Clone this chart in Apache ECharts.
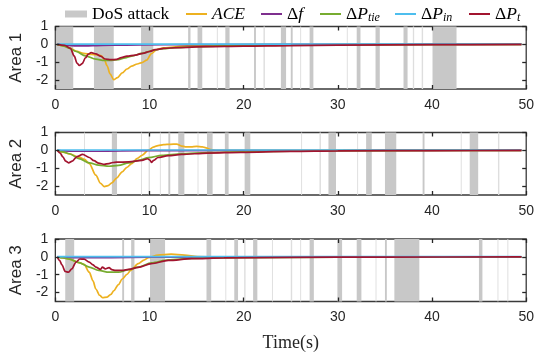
<!DOCTYPE html>
<html>
<head>
<meta charset="utf-8">
<script src="https://cdn.jsdelivr.net/npm/echarts@6/dist/echarts.min.js"></script>
<style>html,body{margin:0;padding:0;background:#fff;}#c{width:537px;height:358px;}</style>
</head>
<body>
<div id="c"></div>
<script>
// ---------- data ----------
const xTicks = [0, 10, 20, 30, 40, 50];
const yTicks = [-2, -1, 0, 1];
const areaNames = ['Area 1', 'Area 2', 'Area 3'];

// DoS attack intervals [start, end] (s)
const dos1 = [[0.05,1.9],[4.1,6.2],[9.1,10.4],[14.1,14.35],[15.1,15.6],[17.15,17.25],[18.05,18.5],[21.1,21.3],[22.1,22.25],[23.95,24.5],[25.0,25.2],[26.0,26.1],[27.0,27.4],[30.95,31.05],[32.0,32.4],[34.0,34.45],[36.97,37.4],[37.96,38.1],[38.9,39.05],[40.05,42.6]];
const dos2 = [[3.05,3.15],[6.0,6.55],[9.1,9.2],[9.9,10.05],[11.1,11.2],[12.0,12.2],[13.05,13.7],[15.1,15.2],[16.1,16.7],[18.0,18.4],[20.1,20.7],[26.1,26.2],[28.05,28.2],[29.0,29.8],[32.05,32.15],[33.0,33.6],[35.0,36.2],[39.0,39.2],[43.05,43.15],[44.0,44.9],[47.0,47.15]];
const dos3 = [[1.05,2.0],[7.1,7.3],[8.05,8.4],[10.05,11.65],[16.05,16.55],[18.05,18.15],[19.0,19.4],[20.05,20.2],[21.0,21.45],[23.0,23.1],[25.0,25.15],[26.0,26.1],[27.0,27.45],[29.95,30.45],[32.0,32.5],[34.0,34.1],[35.0,35.2],[36.0,38.65],[44.98,45.35],[46.95,47.05],[48.0,48.1]];

// Area 1 [t, value]
const a1_ace = [[0.2,0],[1,-0.1],[1.5,-0.2],[2.2,-0.38],[3,-0.5],[3.8,-0.56],[4.5,-0.6],[4.9,-0.64],[5.2,-0.85],[5.5,-1.2],[5.8,-1.65],[6.2,-1.98],[6.6,-1.86],[7.1,-1.6],[7.6,-1.38],[8.1,-1.22],[8.7,-1.1],[9.2,-1.02],[9.7,-0.88],[10.2,-0.52],[10.8,-0.28],[11.5,-0.2],[12.5,-0.15],[14,-0.08],[16,-0.04],[20,-0.02],[30,-0.01],[49.5,0]];
const a1_df = [[0.2,0],[1,-0.04],[2,-0.08],[3,-0.09],[4,-0.07],[6,-0.05],[9,-0.03],[14,-0.015],[25,-0.005],[49.5,0]];
const a1_tie = [[0.2,0],[0.8,-0.08],[1.5,-0.22],[2.2,-0.4],[3.2,-0.65],[4.3,-0.83],[5.2,-0.9],[6,-0.9],[6.7,-0.85],[7.4,-0.76],[8.1,-0.66],[9.2,-0.5],[10.6,-0.31],[11.5,-0.24],[12.7,-0.18],[15,-0.13],[18,-0.09],[22,-0.06],[27,-0.03],[35,-0.01],[49.5,0]];
const a1_in = [[0.2,0.01],[49.5,0.01]];
const a1_pt = [[0.2,0],[1,-0.06],[1.6,-0.22],[2,-0.65],[2.3,-1.05],[2.55,-1.18],[2.85,-1.08],[3.2,-0.75],[3.5,-0.55],[3.8,-0.46],[4.3,-0.53],[4.8,-0.66],[5.3,-0.82],[5.9,-0.86],[6.5,-0.84],[7,-0.74],[7.6,-0.66],[8.5,-0.6],[9.3,-0.5],[10,-0.4],[10.6,-0.3],[11.5,-0.23],[13,-0.18],[16,-0.13],[20,-0.1],[25,-0.07],[30,-0.045],[40,-0.02],[49.5,0]];

// Area 2
const a2_ace = [[0.2,0],[0.8,-0.1],[1.5,-0.2],[2.5,-0.38],[3.1,-0.5],[3.6,-0.74],[4.3,-1.39],[4.8,-1.85],[5.2,-2.03],[5.6,-1.98],[6,-1.82],[6.5,-1.55],[7.1,-1.2],[7.6,-0.95],[8.1,-0.74],[8.7,-0.45],[9.2,-0.28],[9.9,0.02],[10.4,0.18],[10.9,0.27],[11.5,0.32],[12.2,0.34],[12.9,0.35],[13.4,0.24],[13.8,0.2],[14.4,0.19],[15,0.22],[15.6,0.2],[16,0.14],[16.5,0.04],[17.2,0],[20,0],[49.5,0]];
const a2_df = [[0.2,0],[1,-0.03],[2,-0.05],[4,-0.05],[7,-0.03],[12,-0.01],[49.5,0]];
const a2_tie = [[0.2,0],[0.8,-0.08],[1.5,-0.19],[2.5,-0.46],[3.6,-0.7],[4.6,-0.83],[5.7,-0.89],[6.7,-0.84],[7.8,-0.7],[8.8,-0.56],[9.9,-0.41],[11.3,-0.28],[13.4,-0.19],[16.2,-0.13],[20,-0.08],[25,-0.04],[30,-0.02],[40,-0.005],[49.5,0]];
const a2_in = [[0.2,0.02],[49.5,0.02]];
const a2_pt = [[0.2,0],[0.5,-0.15],[0.8,-0.37],[1.1,-0.6],[1.4,-0.7],[1.8,-0.6],[2.3,-0.35],[2.9,-0.22],[3.6,-0.4],[4.1,-0.58],[4.6,-0.72],[5.2,-0.78],[5.7,-0.74],[6.1,-0.68],[6.5,-0.66],[7.8,-0.65],[9.2,-0.56],[9.8,-0.47],[10.05,-0.55],[10.2,-0.67],[10.45,-0.56],[10.9,-0.4],[12,-0.3],[13.4,-0.23],[16.2,-0.15],[19.7,-0.11],[25,-0.06],[30,-0.03],[40,-0.01],[49.5,0]];

// Area 3
const a3_ace = [[0.2,0],[0.8,-0.06],[1.5,-0.13],[2.5,-0.32],[3.05,-0.42],[3.6,-0.86],[4,-1.35],[4.3,-1.8],[4.7,-2.15],[5,-2.28],[5.5,-2.25],[5.9,-2.1],[6.2,-1.9],[6.7,-1.55],[7.1,-1.24],[7.6,-0.98],[8,-0.76],[8.8,-0.38],[9.4,-0.18],[9.9,-0.05],[10.9,0.1],[12.3,0.15],[13.7,0.1],[15.1,0.01],[17,0],[49.5,0]];
const a3_df = [[0.2,0],[1,-0.03],[3,-0.05],[6,-0.04],[10,-0.02],[20,-0.01],[49.5,0]];
const a3_tie = [[0.2,0],[0.8,-0.05],[1.5,-0.13],[2.5,-0.32],[3.6,-0.57],[4.6,-0.76],[5.7,-0.86],[6.7,-0.86],[7.8,-0.72],[8.8,-0.57],[10.2,-0.34],[12,-0.17],[14.5,-0.08],[20,-0.05],[30,-0.02],[40,-0.005],[49.5,0]];
const a3_in = [[0.2,0.01],[49.5,0.01]];
const a3_pt = [[0.2,0],[0.45,-0.2],[0.7,-0.45],[1.05,-0.82],[1.4,-0.86],[1.75,-0.67],[2.2,-0.29],[2.6,-0.12],[3.05,-0.13],[3.6,-0.29],[4,-0.45],[4.3,-0.57],[4.8,-0.7],[5,-0.58],[5.3,-0.67],[5.7,-0.6],[6,-0.72],[6.4,-0.76],[7.1,-0.76],[7.8,-0.7],[8.8,-0.59],[10.2,-0.38],[12,-0.2],[14.5,-0.1],[17.9,-0.06],[25,-0.03],[35,-0.01],[49.5,0]];

// ---------- build ----------
const dosData = [dos1, dos2, dos3];
const lineData = [
  {ACE: a1_ace, df: a1_df, dPtie: a1_tie, dPin: a1_in, dPt: a1_pt},
  {ACE: a2_ace, df: a2_df, dPtie: a2_tie, dPin: a2_in, dPt: a2_pt},
  {ACE: a3_ace, df: a3_df, dPtie: a3_tie, dPin: a3_in, dPt: a3_pt}
];
const lineNames = ['ACE', 'df', 'dPtie', 'dPin', 'dPt'];
const colors = {ACE: '#EDB120', df: '#7E2F8E', dPtie: '#77AC30', dPin: '#4DBEEE', dPt: '#A2142F'};
const DOS = 'DoS attack';
const BAND = '#c8c8c8';
const BAND_THIN = '#dedede';
const AXC = '#262626';
const SANS = 'Liberation Sans';
const SERIF = 'Liberation Serif';

const gridTops = [26.5, 132.5, 239];
const grids = gridTops.map(t => ({left: 52, right: 10, top: t, height: 62.5, show: true, borderColor: '#3a3a3a', borderWidth: 1.3, backgroundColor: 'transparent'}));

const xAxes = [], yAxes = [];
gridTops.forEach((t, i) => {
  const base = {type: 'value', gridIndex: i, min: 0, max: 50, interval: 10, z: 10, splitLine: {show: false},
    axisLine: {show: false, onZero: false},
    axisTick: {show: true, inside: true, length: 4, lineStyle: {color: AXC, width: 1.3}}};
  xAxes.push(Object.assign({}, base, {position: 'bottom',
    axisLabel: {fontFamily: SANS, fontSize: 14, color: AXC, margin: 9},
    name: i === 2 ? 'Time(s)' : '', nameLocation: 'middle', nameGap: 33,
    nameTextStyle: {fontFamily: SERIF, fontSize: 18, color: AXC}}));
  xAxes.push(Object.assign({}, base, {position: 'top', axisLabel: {show: false}}));
  const ybase = {type: 'value', gridIndex: i, min: -2.5, max: 1, z: 10, splitLine: {show: false},
    axisLine: {show: false, onZero: false},
    axisTick: {show: true, inside: true, length: 4, customValues: yTicks, lineStyle: {color: AXC, width: 1.3}}};
  yAxes.push(Object.assign({}, ybase, {position: 'left',
    axisLabel: {fontFamily: SANS, fontSize: 14, color: AXC, margin: 7, customValues: yTicks},
    name: areaNames[i], nameLocation: 'middle', nameGap: 24,
    nameTextStyle: {fontFamily: SANS, fontSize: 17, color: AXC}}));
  yAxes.push(Object.assign({}, ybase, {position: 'right', axisLabel: {show: false, customValues: yTicks}}));
});

const series = [];
gridTops.forEach((t, i) => {
  series.push({
    type: 'custom', name: DOS, xAxisIndex: 2 * i, yAxisIndex: 2 * i, silent: true, z: 1,
    itemStyle: {color: BAND},
    encode: {x: [0, 1]},
    data: dosData[i],
    renderItem: function (params, api) {
      const x0 = api.coord([api.value(0), 0])[0];
      const x1 = api.coord([api.value(1), 0])[0];
      const cs = params.coordSys;
      const w = Math.max(x1 - x0, 0.6);
      return {type: 'rect', shape: {x: x0, y: cs.y, width: w, height: cs.height},
        style: {fill: w < 1.6 ? BAND_THIN : BAND}};
    }
  });
  lineNames.forEach((n, k) => {
    series.push({
      type: 'line', name: n, xAxisIndex: 2 * i, yAxisIndex: 2 * i, data: lineData[i][n],
      symbol: 'none', smooth: 0.3, smoothMonotone: 'x', z: 3 + k,
      lineStyle: {color: colors[n], width: 1.7}, itemStyle: {color: colors[n]}
    });
  });
});

const rich = {
  r: {fontFamily: SERIF, fontSize: 17.5, color: '#000'},
  i: {fontFamily: SERIF, fontSize: 17.5, fontStyle: 'italic', color: '#000'},
  s: {fontFamily: SERIF, fontSize: 12, fontStyle: 'italic', color: '#000', verticalAlign: 'bottom', padding: [8, 0, 0, 0]}
};
const labelText = {
  'DoS attack': '{r|DoS attack}',
  ACE: '{i|ACE}',
  df: '{r|Δ}{i|f}',
  dPtie: '{r|Δ}{i|P}{s|tie}',
  dPin: '{r|Δ}{i|P}{s|in}',
  dPt: '{r|Δ}{i|P}{s|t}'
};
const LINE_ICON = 'path://M0,0H21V2H0Z';
const legendLefts = {'DoS attack': 65, ACE: 186, df: 261, dPtie: 320, dPin: 395, dPt: 469};
const legends = Object.keys(legendLefts).map(n => ({
  left: legendLefts[n], top: 5, selectedMode: false, padding: 0,
  itemWidth: n === DOS ? 22 : 21, itemHeight: n === DOS ? 7 : 14, symbolKeepAspect: true,
  data: [n === DOS ? {name: n, icon: 'rect', itemStyle: {color: BAND}}
                   : {name: n, icon: LINE_ICON, itemStyle: {color: colors[n]}}],
  formatter: name => labelText[name],
  textStyle: {rich: rich, fontFamily: SERIF, fontSize: 17.5}
}));

const chart = echarts.init(document.getElementById('c'), null, {renderer: 'canvas'});
chart.setOption({
  animation: false,
  backgroundColor: '#fff',
  legend: legends,
  grid: grids,
  xAxis: xAxes,
  yAxis: yAxes,
  series: series
});
</script>
</body>
</html>
